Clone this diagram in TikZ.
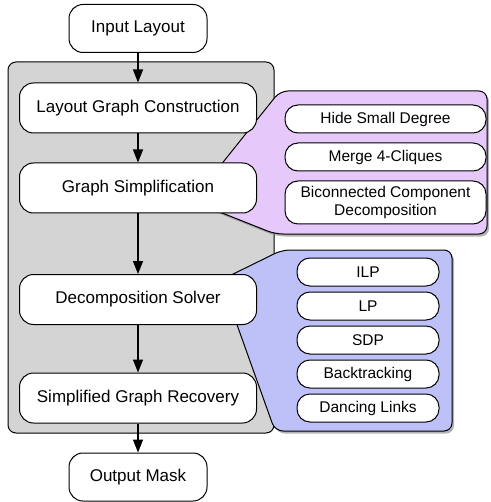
\documentclass[tikz,border=0pt]{standalone}
\usepackage{fontspec}
\setmainfont{Liberation Sans}
\usetikzlibrary{arrows.meta,shadows}

\definecolor{panelGray}{RGB}{212,212,212}
\definecolor{simpLilac}{RGB}{230,200,250}
\definecolor{solverBlue}{RGB}{190,192,248}

\def\stepWidth{237pt}
\def\stepHeight{50pt}

\tikzset{
    stepbox/.style = {draw, fill = white, line width = 1pt, rounded corners = 14pt,
        minimum width = \stepWidth, minimum height = \stepHeight,
        font = \fontsize{17}{20}\selectfont},
    endbox/.style = {stepbox, minimum width = 138pt, minimum height = 48pt},
    subbox/.style = {draw, fill = white, line width = 1pt, rounded corners = 13pt,
        minimum height = 28pt, align = center, inner sep = 2pt,
        font = \fontsize{15.5}{18}\selectfont},
    flow/.style = {line width = 1.1pt, -{Triangle[length = 13pt, width = 10pt]}},
    callout/.style = {draw, line width = 1pt, rounded corners = 8pt,
        drop shadow = {opacity = 0.6, shadow xshift = 2pt, shadow yshift = -2.5pt}},
}

\begin{document}
\begin{tikzpicture}[x = 1pt, y = -1pt]
            \useasboundingbox (0,0) rectangle (490,502);

            % gray panel behind the steps
            \draw [fill = panelGray, line width = 1pt, rounded corners = 8pt]
            (8,62) rectangle (274,433)
            ;

            % callouts
            \draw [callout, fill = simpLilac]
            (192,201) -- (280,91) -- (487,91) -- (487,234) -- (275,234) -- cycle
            ;
            \draw [callout, fill = solverBlue]
            (221,280) -- (282,250) -- (452,250) -- (452,431) -- (275,431) -- cycle
            ;

            % main steps
            \node [endbox] (input) at (138,28.5) {Input Layout};
            \node [stepbox] (construct) at (138,108) {Layout Graph Construction};
            \node [stepbox] (simplify) at (138,188) {Graph Simplification};
            \node [stepbox] (solver) at (138,299.5) {Decomposition Solver};
            \node [stepbox] (recover) at (138,398) {Simplified Graph Recovery};
            \node [endbox] (output) at (138,477) {Output Mask};

            % simplification techniques
            \foreach \name/\text/\y/\h in {
                hide/Hide Small Degree/119/28,
                merge/Merge 4-Cliques/157/28,
                bicon/{Biconnected Component\\Decomposition}/202.5/43} {
                \node [subbox, minimum width = 201pt, minimum height = \h pt]
                (\name) at (385.5,\y) {\text};
            }

            % solvers
            \foreach \name/\text [count = \i from 0] in {
                ilp/ILP, lp/LP, sdp/SDP, back/Backtracking, dlx/Dancing Links} {
                \node [subbox, minimum width = 142pt] (\name) at (368,272+34*\i) {\text};
            }

            \draw [flow] (input) -- (construct);
            \draw [flow] (construct) -- (simplify);
            \draw [flow] (simplify) -- (solver);
            \draw [flow] (solver) -- (recover);
            \draw [flow] (recover) -- (output);
        \end{tikzpicture}
\end{document}
